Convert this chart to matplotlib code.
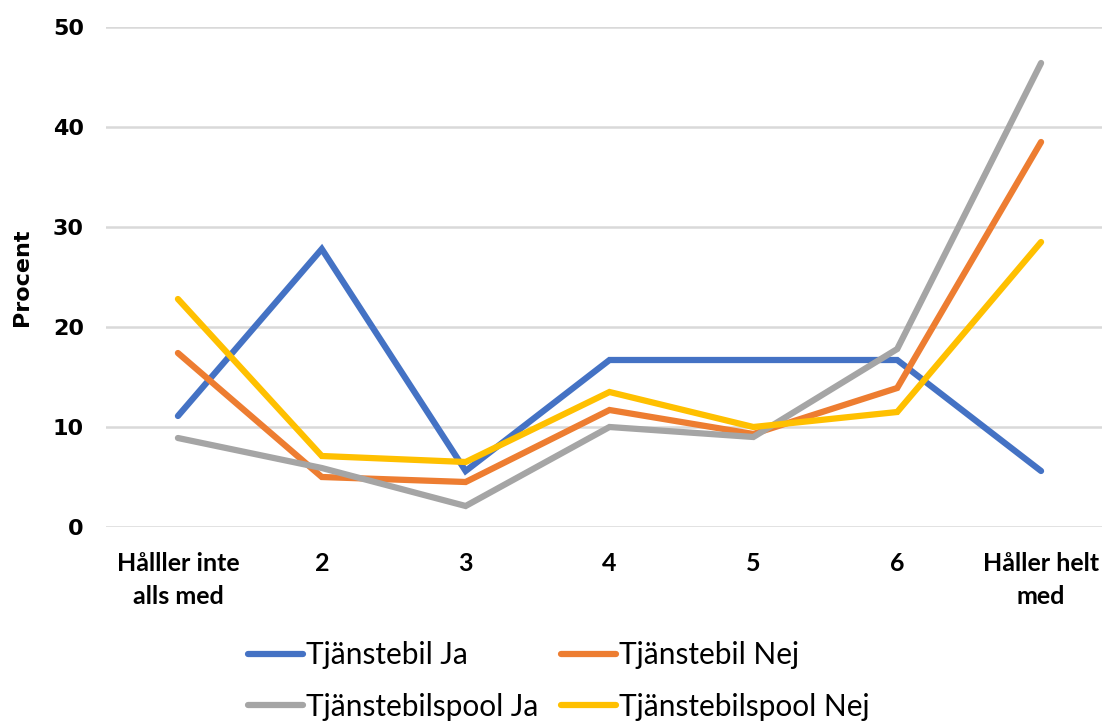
import matplotlib
matplotlib.use("Agg")
import matplotlib.pyplot as plt

categories = ["Hålller inte\nalls med", "2", "3", "4", "5", "6", "Håller helt\nmed"]
tjanstebil_ja = [11.1, 27.8, 5.6, 16.7, 16.7, 16.7, 5.6]
tjanstebil_nej = [17.4, 5.0, 4.5, 11.7, 9.3, 13.9, 38.5]
pool_ja = [8.9, 5.9, 2.1, 10.0, 9.0, 17.8, 46.4]
pool_nej = [22.8, 7.1, 6.5, 13.5, 10.0, 11.5, 28.5]

series_labels = ["Tjänstebil Ja", "Tjänstebil Nej", "Tjänstebilspool Ja", "Tjänstebilspool Nej"]
series_colors = ["#4472C4", "#ED7D31", "#A5A5A5", "#FFC000"]
yticks = [0, 10, 20, 30, 40, 50]

label_font = ["Lato", "DejaVu Sans"]

W, H = 1102, 722
fig = plt.figure(figsize=(W / 100, H / 100), dpi=100)
left, right, bottom, top = 106, 1113, 527, 27
ax = fig.add_axes([left / W, 1 - bottom / H, (right - left) / W, (bottom - top) / H])
ax.patch.set_alpha(0)

x = list(range(len(categories)))
handles = []
for vals, lab, col in zip([tjanstebil_ja, tjanstebil_nej, pool_ja, pool_nej], series_labels, series_colors):
    (ln,) = ax.plot(x, vals, color=col, lw=4.5, solid_capstyle="round",
                    solid_joinstyle="miter", label=lab, zorder=3, clip_on=False)
    handles.append(ln)

ax.set_xlim(-0.5, len(categories) - 0.5)
ax.set_ylim(0, 50)
ax.set_yticks(yticks)
ax.grid(axis="y", color="#D9D9D9", lw=1.8, zorder=0)
ax.set_axisbelow(True)
for s in ax.spines.values():
    s.set_visible(False)
ax.tick_params(length=0)
ax.tick_params(axis="y", pad=16)
ax.tick_params(axis="x", pad=18)

ax.set_xticks(x)
ax.set_xticklabels(categories, fontsize=18, fontweight="bold", family=label_font,
                   linespacing=1.5)
for t in ax.get_yticklabels():
    t.set_fontsize(16)
    t.set_fontweight("bold")
    t.set_family("DejaVu Sans")

fig.text(22 / W, 1 - 277 / H, "Procent", rotation=90, ha="center", va="center",
         fontsize=16, fontweight="bold", family="DejaVu Sans")

# legend fills column by column: left column Ja entries, right column Nej entries
order = [0, 2, 1, 3]
leg = fig.legend(handles=[handles[i] for i in order],
                 labels=[series_labels[i] for i in order], ncol=2, loc="center",
                 bbox_to_anchor=(559 / W, 1 - 681 / H), frameon=False,
                 prop={"family": label_font, "size": 21.5}, handlelength=1.85,
                 handletextpad=0.1, columnspacing=0.75, labelspacing=0.8)
for h in leg.legend_handles:
    h.set_linewidth(4.5)
    h.set_solid_capstyle("round")

fig.savefig("out.png", dpi=100)
